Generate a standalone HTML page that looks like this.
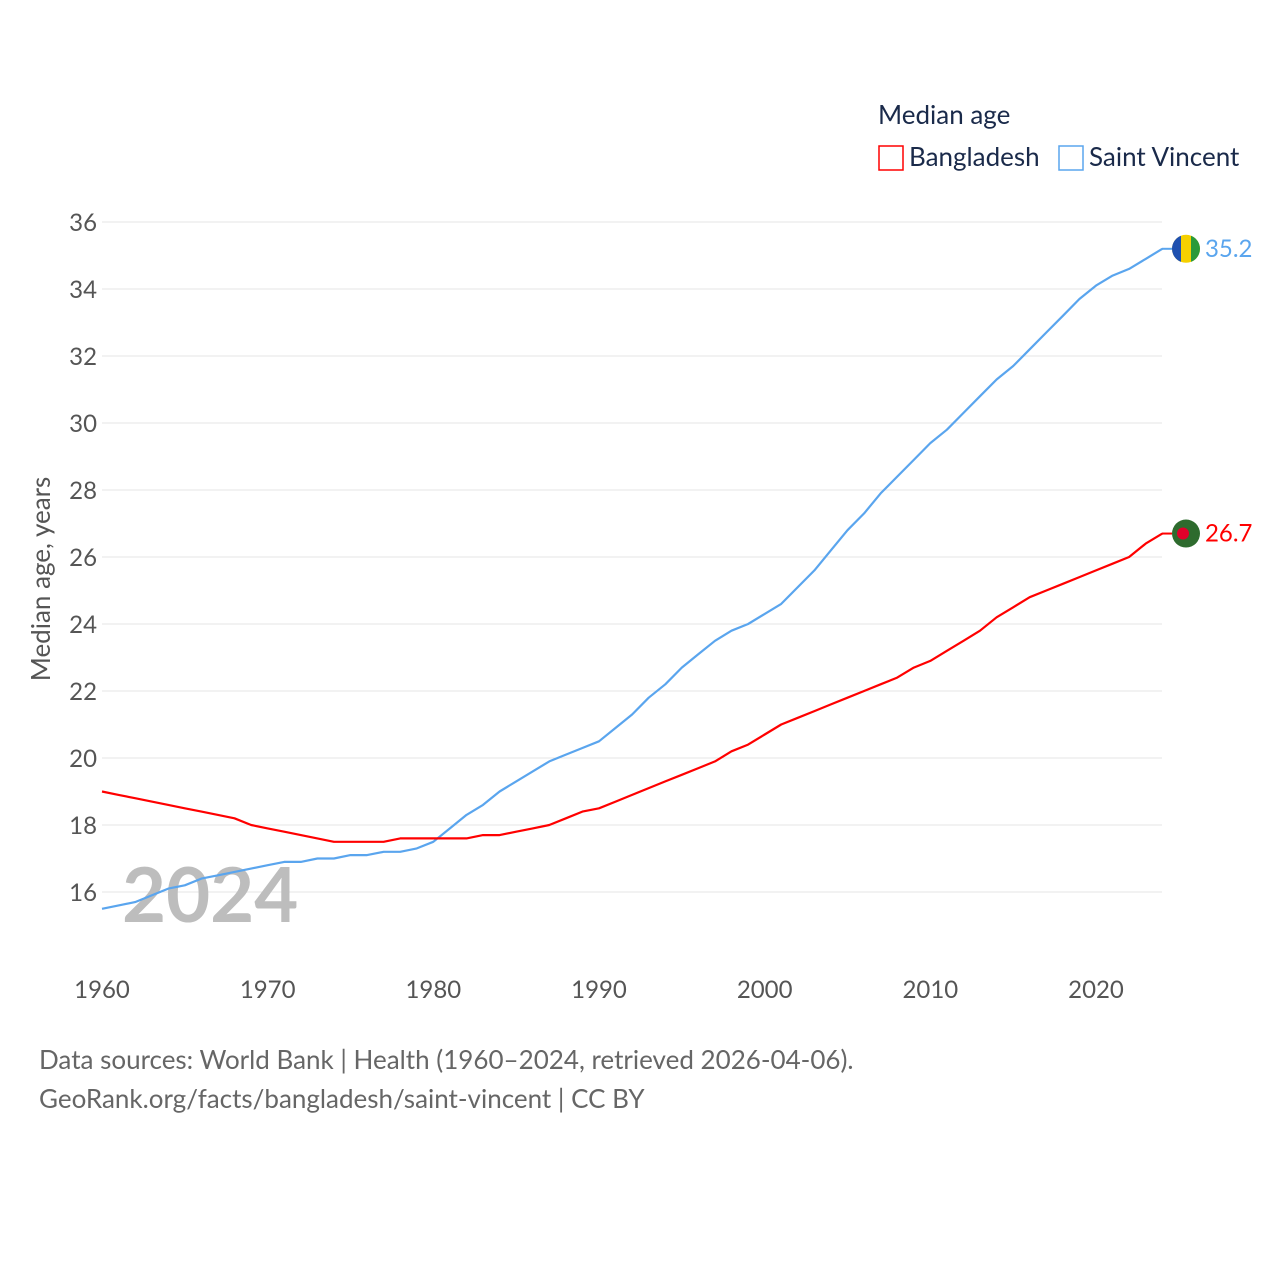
<!DOCTYPE html>
<html><head><meta charset="utf-8"><style>
body{margin:0;background:#fff;width:1280px;height:1280px;overflow:hidden;font-family:"Liberation Sans",sans-serif}
</style></head><body>
<svg id="chart" width="1280" height="1280" xmlns="http://www.w3.org/2000/svg" font-family="Lato,'Liberation Sans',sans-serif">
<g id="grid"></g>
<g id="yticks"></g>
<g id="xticks"></g>
<text x="122" y="922" font-size="76" font-weight="bold" fill="#bdbdbd">2024</text>
<g id="series"></g>
<text transform="translate(50,579) rotate(-90)" text-anchor="middle" font-size="26" fill="#555">Median age, years</text>
<text x="878" y="124" font-size="26" fill="#1a2a4a">Median age</text>
<rect x="879" y="146" width="24" height="24" fill="none" stroke="#f00" stroke-width="1.5"/>
<text x="909" y="166" font-size="26" fill="#1a2a4a">Bangladesh</text>
<rect x="1059" y="146" width="24" height="24" fill="none" stroke="#5aa5ee" stroke-width="1.5"/>
<text x="1089" y="166" font-size="26" fill="#1a2a4a">Saint Vincent</text>
<text x="39" y="1069" font-size="26" fill="#666">Data sources: World Bank | Health (1960–2024, retrieved 2026-04-06).</text>
<text x="39" y="1108" font-size="26" fill="#666">GeoRank.org/facts/bangladesh/saint-vincent | CC BY</text>
</svg>
<script>
const years=[];for(let y=1960;y<=2024;y++)years.push(y);
const bangladesh=[19.0,18.9,18.8,18.7,18.6,18.5,18.4,18.3,18.2,18.0,17.9,17.8,17.7,17.6,17.5,17.5,17.5,17.5,17.6,17.6,17.6,17.6,17.6,17.7,17.7,17.8,17.9,18.0,18.2,18.4,18.5,18.7,18.9,19.1,19.3,19.5,19.7,19.9,20.2,20.4,20.7,21.0,21.2,21.4,21.6,21.8,22.0,22.2,22.4,22.7,22.9,23.2,23.5,23.8,24.2,24.5,24.8,25.0,25.2,25.4,25.6,25.8,26.0,26.4,26.7];
const saintVincent=[15.5,15.6,15.7,15.9,16.1,16.2,16.4,16.5,16.6,16.7,16.8,16.9,16.9,17.0,17.0,17.1,17.1,17.2,17.2,17.3,17.5,17.9,18.3,18.6,19.0,19.3,19.6,19.9,20.1,20.3,20.5,20.9,21.3,21.8,22.2,22.7,23.1,23.5,23.8,24.0,24.3,24.6,25.1,25.6,26.2,26.8,27.3,27.9,28.4,28.9,29.4,29.8,30.3,30.8,31.3,31.7,32.2,32.7,33.2,33.7,34.1,34.4,34.6,34.9,35.2];
const yTicks=[16,18,20,22,24,26,28,30,32,34,36];
const xTicks=[1960,1970,1980,1990,2000,2010,2020];
const NS="http://www.w3.org/2000/svg";
const X=v=>102+(v-1960)*(1096-102)/60;
const Y=v=>892-(v-16)*(892-222)/20;
function mk(t,a,p){const e=document.createElementNS(NS,t);for(const k in a)e.setAttribute(k,a[k]);p.appendChild(e);return e;}
const grid=document.getElementById('grid'),yt=document.getElementById('yticks'),xt=document.getElementById('xticks'),ser=document.getElementById('series');
yTicks.forEach(v=>{
 const l=mk('line',{x1:102,x2:1162,y1:Y(v),y2:Y(v),stroke:'#e6e6e6','stroke-width':1},grid);
 
 
 const t=mk('text',{x:97,y:Y(v)+9,'text-anchor':'end','font-size':24,fill:'#555'},yt);t.textContent=v;
 
 
});
xTicks.forEach(v=>{
 const t=mk('text',{x:X(v),y:998,'text-anchor':'middle','font-size':24,fill:'#555'},xt);t.textContent=v;
 
 
});
function line(data,color,name){
 const d=data.map((v,i)=>(i?'L':'M')+X(years[i]).toFixed(1)+','+Y(v).toFixed(1)).join('');
 const p=mk('path',{d:d,fill:'none',stroke:color,'stroke-width':2.2,'stroke-linejoin':'round'},ser);
 
 
 const last=data[data.length-1],yy=Y(last);
 mk('line',{x1:1162,x2:1172,y1:yy,y2:yy,stroke:color,'stroke-width':2},ser);
 const c=mk('circle',{cx:1186,cy:yy,r:14,fill:name==='bangladesh'?'#2e6b2e':'#f5d000'},ser);
 
 
 if(name==='bangladesh'){mk('circle',{cx:1183,cy:yy,r:6,fill:'#e0002a'},ser);}
 else{mk('path',{d:`M1172,${yy}A14,14 0 0 1 1181,${yy-13.1}L1181,${yy+13.1}A14,14 0 0 1 1172,${yy}Z`,fill:'#1e50b0'},ser);
 mk('path',{d:`M1200,${yy}A14,14 0 0 1 1191,${yy+13.1}L1191,${yy-13.1}A14,14 0 0 1 1200,${yy}Z`,fill:'#2a9a3a'},ser);}
 const t=mk('text',{x:1205,y:yy+8,'font-size':24,fill:color},ser);t.textContent=last.toFixed(1);
 
 
}
line(saintVincent,'#5aa5ee','saint-vincent');
line(bangladesh,'#ff0000','bangladesh');
</script>
</body></html>
